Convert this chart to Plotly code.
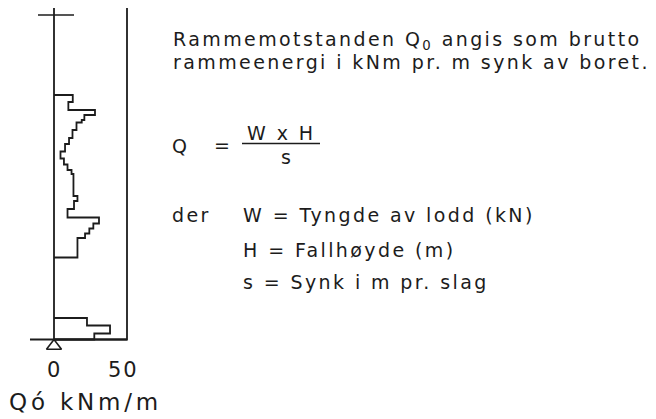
import plotly.graph_objects as go

# the page puts the figure 8 px in from the top-left corner
OFF = 8
W_PX, H_PX = 656 - OFF, 419 - OFF

# ram resistance profile, upper zone: depth of each step (m) and Q0 (kNm/m)
upper_depth = [8.0, 8.7, 9.5, 10.0, 10.5, 10.75, 11.5, 12.3, 12.9, 13.65, 14.35,
               14.95, 15.5, 15.9, 18.1, 18.6, 19.4, 20.25, 20.85, 21.35, 21.85, 22.3]
upper_q = [13.6, 10.4, 29.7, 22.0, 20.1, 16.3, 13.4, 10.9, 8.0, 4.7, 7.2,
           9.8, 12.7, 14.1, 17.0, 14.5, 9.8, 32.6, 28.5, 25.6, 22.5, 17.0]
upper_end = 24.25

# lower zone
lower_depth = [30.3, 31.05, 31.85]
lower_q = [23.9, 40.6, 29.2]
lower_end = 32.45

box_top = -0.8
box_right = 52.9
terrain = 0.0
x_ticks = [0, 50]

INK = "#1c1c1c"
FONT = "DejaVu Sans"


def step_pts(depths, qs, end):
    xs = [0] + qs + [0]
    ys = [depths[0]] + depths[1:] + [end, end]
    return xs, ys


def spaced(text, ls):
    return f'<span style="letter-spacing:{ls}px">{text}</span>'


fig = go.Figure()
for d, q, e in [(upper_depth, upper_q, upper_end), (lower_depth, lower_q, lower_end)]:
    xs, ys = step_pts(d, q, e)
    fig.add_trace(go.Scatter(x=xs, y=ys, mode="lines", line_shape="hv",
                             line=dict(color=INK, width=1.8), showlegend=False, hoverinfo="skip"))

# triangle under the zero line
fig.add_trace(go.Scatter(x=[0], y=[lower_end + 0.65], mode="markers",
                         marker=dict(symbol="triangle-up-open", size=13, color=INK,
                                     line=dict(width=1.6, color=INK)),
                         showlegend=False, hoverinfo="skip"))

# box
fig.add_shape(type="rect", x0=0, x1=box_right, y0=box_top, y1=lower_end,
              line=dict(color=INK, width=1.8))
fig.add_shape(type="line", x0=-17.4, x1=box_right, y0=lower_end, y1=lower_end,
              line=dict(color=INK, width=1.8))
fig.add_shape(type="line", x0=-11.6, x1=14.5, y0=terrain, y1=terrain,
              line=dict(color=INK, width=1.6))

for t in x_ticks:
    fig.add_annotation(x=t, y=35.5, text=spaced(str(t), 2), showarrow=False, borderpad=0,
                       font=dict(size=21, color=INK, family=FONT))


def px(x):
    return (x - OFF) / W_PX


def py(y):
    return 1 - (y - OFF) / H_PX


def note(x, y, text, size=19, anchor="left", ls=2.4):
    fig.add_annotation(xref="paper", yref="paper", x=px(x), y=py(y), text=spaced(text, ls),
                       xanchor=anchor, yanchor="middle", showarrow=False, borderpad=0,
                       font=dict(size=size, color=INK, family=FONT))


note(85, 402, "Qó kNm/m", size=23, anchor="center", ls=3.8)
note(172, 40, "Rammemotstanden Q<sub>0</sub> angis som brutto")
note(172, 62, "rammeenergi i kNm pr. m synk av boret.")
note(171, 146, "Q")
note(213, 145, "=")
note(281, 133, "W x H", anchor="center")
note(287, 157, "s", anchor="center")
fig.add_shape(type="line", xref="paper", yref="paper", x0=px(242), x1=px(320),
              y0=py(143.5), y1=py(143.5), line=dict(color=INK, width=1.4))
note(171, 215, "der")
note(242, 215, "W = Tyngde av lodd (kN)")
note(242, 250, "H = Fallhøyde (m)")
note(242, 282, "s = Synk i m pr. slag")

fig.update_layout(
    width=W_PX, height=H_PX,
    margin=dict(l=0, r=0, t=0, b=0),
    paper_bgcolor="white", plot_bgcolor="white",
    xaxis=dict(range=[(OFF - 54) / 1.38, (W_PX + OFF - 54) / 1.38], visible=False, fixedrange=True),
    yaxis=dict(range=[(H_PX + OFF - 15) / 10, (OFF - 15) / 10], visible=False, fixedrange=True),
)

fig.write_html("out.html")
